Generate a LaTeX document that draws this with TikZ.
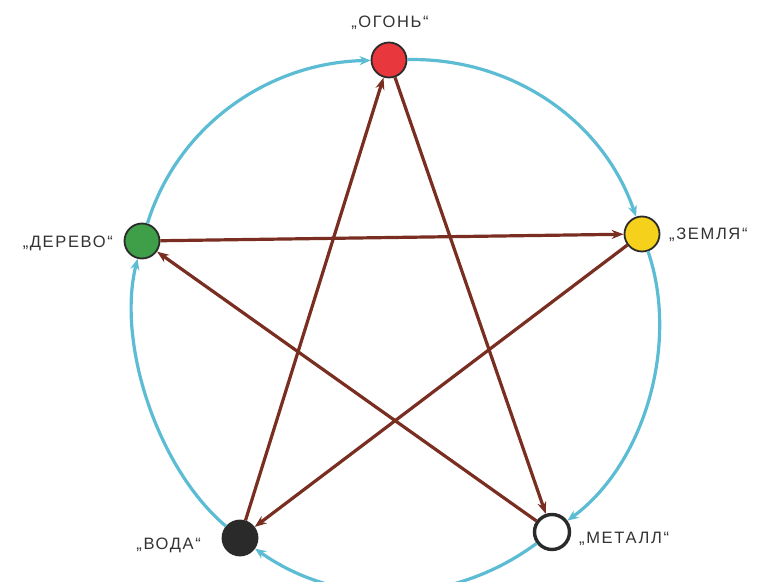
\documentclass[tikz,border=0pt]{standalone}
\usepackage{fontspec}
\newfontfamily\labfont[LetterSpace=10]{Liberation Sans}
\usetikzlibrary{arrows.meta}
\definecolor{cyc}{HTML}{5BBCD4}
\definecolor{brn}{HTML}{7A2E22}
\definecolor{txt}{HTML}{333333}
\definecolor{firec}{HTML}{E8383D}
\definecolor{earthc}{HTML}{F6D11C}
\definecolor{woodc}{HTML}{3F9E48}
\definecolor{edge}{HTML}{2A2A2A}
\tikzset{
  elem/.style={circle, minimum size=35pt, inner sep=0pt, line width=1.8pt, draw=edge},
  lab/.style={text=txt, font=\labfont\fontsize{16.5}{19}\selectfont, inner sep=0pt},
  cycle/.style={draw=cyc, line width=3.2pt, looseness=0.95, -{Stealth[length=11pt,width=9pt]}},
  ctrl/.style={draw=brn, line width=3.2pt, -{Stealth[length=12pt,width=9pt]}}
}
\begin{document}
\begin{tikzpicture}[x=1pt,y=1pt]
\useasboundingbox (0,0) rectangle (757,581);
\fill[white] (0,0) rectangle (757,581);
\node[elem, fill=firec] (fire) at (389,521) {};
\node[elem, fill=earthc] (earth) at (642,347) {};
\node[elem, fill=white, line width=3.4pt] (metal) at (552,49) {};
\node[elem, fill=edge] (water) at (240,43) {};
\node[elem, fill=woodc] (wood) at (142,340) {};
\node[lab] (lfire) at (390,558) {„ОГОНЬ“};
\node[lab, anchor=west] (learth) at (669,346) {„ЗЕМЛЯ“};
\node[lab, anchor=west] (lmetal) at (579,42) {„МЕТАЛЛ“};
\node[lab, anchor=east] (lwater) at (201,36) {„ВОДА“};
\node[lab, anchor=east] (lwood) at (113,338) {„ДЕРЕВО“};
\draw[cycle] (fire) to[out=1.3, in=109] (earth);
\draw[cycle] (earth) to[out=-71, in=36.4, looseness=0.88] (metal);
\draw[cycle] (metal) to[out=-143.6, in=-35.3] (water);
\draw[cycle] (water) to[out=140, in=256, looseness=0.8] (wood);
\draw[cycle] (wood) to[out=72.9, in=181.3] (fire);
\draw[ctrl] (fire) -- (metal);
\draw[ctrl] (metal) -- (wood);
\draw[ctrl] (wood) -- (earth);
\draw[ctrl] (earth) -- (water);
\draw[ctrl] (water) -- (fire);
\end{tikzpicture}
\end{document}
